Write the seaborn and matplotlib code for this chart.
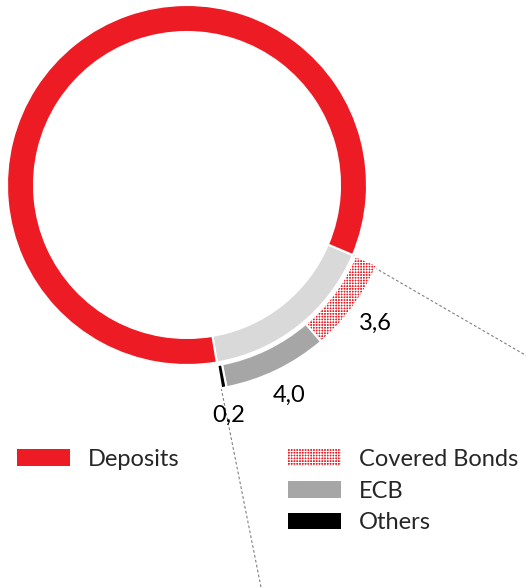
import numpy as np
import matplotlib
matplotlib.use("Agg")
import matplotlib.pyplot as plt
from matplotlib.patches import Patch
import seaborn as sns

# Funding mix (EUR bn)
deposits_label = "Deposits"
deposits_value = 41.0
wholesale_labels = ["Covered Bonds", "ECB", "Others"]
wholesale_values = [3.6, 4.0, 0.2]
value_labels = ["3,6", "4,0", "0,2"]

sns.set_theme(style="white")
plt.rcParams["font.family"] = ["Lato", "DejaVu Sans"]
plt.rcParams["hatch.linewidth"] = 0.7

RED = "#ED1C24"
LIGHT = "#D9D9D9"
GREY = "#A6A6A6"
BLACK = "#000000"
HATCH = "++++++"

W, H = 526, 588
fig = plt.figure(figsize=(W / 100, H / 100), dpi=100)
ax = fig.add_axes([0, 0, 1, 1])

wholesale_total = sum(wholesale_values)
total = deposits_value + wholesale_total
start = -22.9  # wholesale block begins here and runs clockwise

edge = dict(edgecolor="white", linewidth=1.5)
ring_r, ring_w = 1.0, 0.15
outer_r, outer_w = 1.145, 0.13

ax.pie([wholesale_total, deposits_value], radius=ring_r, startangle=start,
       counterclock=False, colors=[LIGHT, RED],
       wedgeprops=dict(width=ring_w, **edge))
outer, _ = ax.pie(wholesale_values + [deposits_value], radius=outer_r,
                  startangle=start, counterclock=False,
                  colors=[RED, GREY, BLACK, "white"],
                  wedgeprops=dict(width=outer_w, **edge))
outer[0].set_hatch(HATCH)
outer[-1].set_visible(False)

# value labels at the middle of each wholesale wedge
cum = 0.0
for v, lab in zip(wholesale_values, value_labels):
    mid = np.deg2rad(start - 360 * (cum + v / 2) / total)
    r = 1.30
    ax.text(r * np.cos(mid), r * np.sin(mid), lab, ha="center", va="center",
            fontsize=17, color="black")
    cum += v

# dotted connectors leading away from the wholesale block
a0 = np.deg2rad(start)
a1 = np.deg2rad(start - 360 * wholesale_total / total)
p0 = np.array([ring_r * np.cos(a0), ring_r * np.sin(a0)])
p1 = np.array([outer_r * np.cos(a1), outer_r * np.sin(a1)])
for p, d in [(p0, -30.1), (p1, -78.7)]:
    dv = np.array([np.cos(np.deg2rad(d)), np.sin(np.deg2rad(d))]) * 3
    ax.plot([p[0], p[0] + dv[0]], [p[1], p[1] + dv[1]], color="#808080",
            lw=0.8, ls=(0, (2.5, 2)), zorder=0)

# axes limits: centre of the ring at (187, 185) px, 180 px per unit
cx, cy, s = 187, 185, 180
ax.set_xlim(-cx / s, (W - cx) / s)
ax.set_ylim(-(H - cy) / s, cy / s)
ax.set_aspect("equal")
ax.axis("off")

common = dict(frameon=False, fontsize=17, handlelength=2.25, handleheight=0.7,
              handletextpad=0.75, borderpad=0, borderaxespad=0,
              labelspacing=0.45, loc="upper left", bbox_transform=fig.transFigure)
leg1 = ax.legend(handles=[Patch(facecolor=RED, linewidth=0)],
                 labels=[deposits_label],
                 bbox_to_anchor=(17 / W, 1 - 449 / H), **common)
ax.add_artist(leg1)
handles2 = [Patch(facecolor=RED, edgecolor="white", hatch=HATCH, linewidth=0),
            Patch(facecolor=GREY, linewidth=0),
            Patch(facecolor=BLACK, linewidth=0)]
ax.legend(handles=handles2, labels=wholesale_labels,
          bbox_to_anchor=(288 / W, 1 - 449 / H), **common)

fig.savefig("out.png", dpi=100)
